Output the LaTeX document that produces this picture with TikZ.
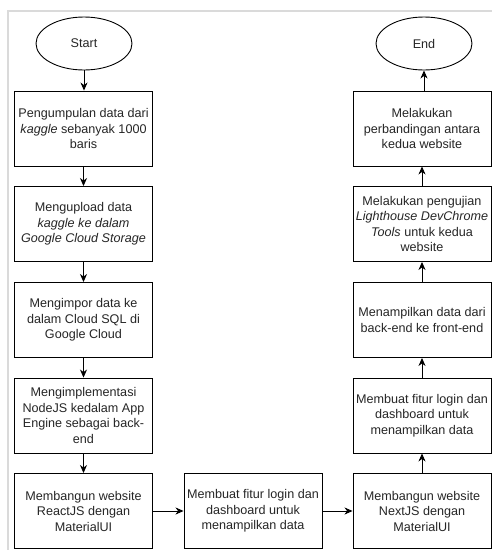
\documentclass[tikz,border=0pt]{standalone}
\usepackage{fontspec}
\setmainfont{Liberation Sans}
\usetikzlibrary{arrows.meta,shapes.geometric}
\definecolor{framegray}{HTML}{DADADA}
\definecolor{txt}{HTML}{262626}
\tikzset{
  x=1pt, y=-1pt,
  stepbox/.style={draw=black, line width=0.9pt, minimum width=138pt, minimum height=75pt,
    inner sep=0pt, align=center, text=txt, font=\fontsize{12.6}{15.5}\selectfont},
  terminal/.style={draw=black, line width=0.9pt, ellipse, minimum width=96pt, minimum height=53pt,
    inner sep=0pt, text=txt, font=\fontsize{12.6}{15.5}\selectfont},
  flow/.style={draw=black, line width=0.9pt, -{Stealth[length=8pt,width=7pt,inset=2.5pt]}}
}
\begin{document}
\begin{tikzpicture}
\useasboundingbox (0,0) rectangle (492,550);
\fill[white] (0,0) rectangle (492,550);
\draw[framegray, line width=1.2pt] (8,550) -- (8,11) -- (492,11);
% left column
\node[terminal] (start) at (84,43.5) {Start};
\node[stepbox] (a1) at (83.5,128.5) {Pengumpulan data dari\\\textit{kaggle} sebanyak 1000\\baris};
\node[stepbox] (a2) at (83.5,224) {Mengupload data\\\textit{kaggle ke dalam}\\\textit{Google Cloud Storage}};
\node[stepbox] (a3) at (83.5,320) {Mengimpor data ke\\dalam Cloud SQL di\\Google Cloud};
\node[stepbox] (a4) at (83.5,415.5) {Mengimplementasi\\NodeJS kedalam App\\Engine sebagai back-\\end};
\node[stepbox] (a5) at (83.5,511) {Membangun website\\ReactJS dengan\\MaterialUI};
% middle
\node[stepbox] (m) at (253,511) {Membuat fitur login dan\\dashboard untuk\\menampilkan data};
% right column
\node[stepbox] (b5) at (422,511) {Membangun website\\NextJS dengan\\MaterialUI};
\node[stepbox] (b4) at (422,415.5) {Membuat fitur login dan\\dashboard untuk\\menampilkan data};
\node[stepbox] (b3) at (422,320) {Menampilkan data dari\\back-end ke front-end};
\node[stepbox] (b2) at (422,224) {Melakukan pengujian\\\textit{Lighthouse DevChrome}\\\textit{Tools} untuk kedua\\website};
\node[stepbox] (b1) at (422,128.5) {Melakukan\\perbandingan antara\\kedua website};
\node[terminal] (end) at (424,43.5) {End};
% connectors
\draw[flow] (start.south) -- (start.south |- a1.north);
\draw[flow] (a1) -- (a2);
\draw[flow] (a2) -- (a3);
\draw[flow] (a3) -- (a4);
\draw[flow] (a4) -- (a5);
\draw[flow] (a5) -- (m);
\draw[flow] (m) -- (b5);
\draw[flow] (b5) -- (b4);
\draw[flow] (b4) -- (b3);
\draw[flow] (b3) -- (b2);
\draw[flow] (b2) -- (b1);
\draw[flow] (b1.north -| end.south) -- (end.south);
\end{tikzpicture}
\end{document}
